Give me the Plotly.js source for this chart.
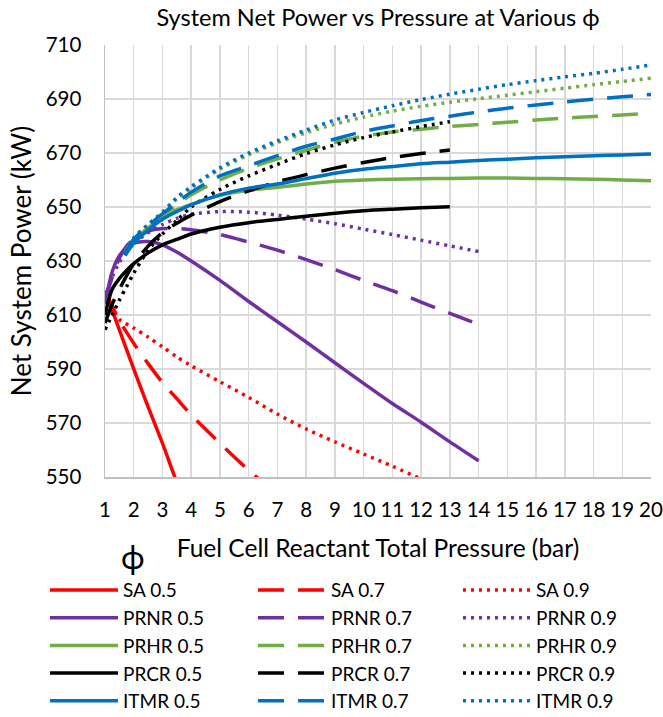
<!DOCTYPE html>
<html><head><meta charset="utf-8">
<script src="https://cdn.plot.ly/plotly-3.0.1.min.js"></script>
<style>html,body{margin:0;padding:0;background:#fff}#chart{width:663px;height:717px}</style>
</head><body><div id="chart"></div>
<script>
// ---- Data ----
const configNames = ['SA', 'PRNR', 'PRHR', 'PRCR', 'ITMR'];
const phiValues = ['0.5', '0.7', '0.9'];

// Pressure (bar) grids for each series
const xSA05 = [1, 1.5, 2, 2.5, 3, 3.5, 4];
const xSA07 = [1, 1.5, 2, 2.5, 3, 3.5, 4, 5, 6, 7];
const xSA09 = [1, 1.25, 1.5, 2, 2.5, 3, 3.5, 4, 5, 6, 7, 8, 9, 10, 11, 12, 13];
const xPRNR = [1, 1.25, 1.5, 1.75, 2, 2.5, 3, 3.5, 4, 5, 6, 7, 8, 9, 10, 11, 12, 13, 14];
const xPRCR = [1, 1.25, 1.5, 1.75, 2, 2.5, 3, 3.5, 4, 5, 6, 7, 8, 9, 10, 11, 12, 13];
const xHigh = [1.7, 2, 2.5, 3, 3.5, 4, 5, 6, 7, 8, 9, 10, 11, 12, 13, 14, 15, 16, 17, 18, 19, 20];

// Net system power (kW)
const SA_05 = [619, 604.5, 590, 576, 562.5, 548, 535];
const SA_07 = [619, 608, 599.5, 592, 585, 579, 573, 562.5, 552.5, 543.5];
const SA_09 = [619, 612, 608.3, 605.2, 601.8, 598.2, 594.5, 591.2, 585.3, 579.5, 573.3, 567.8, 563, 558.5, 554, 549.3, 545];

const PRNR_05 = [614, 626, 632, 635, 636.6, 637.2, 636, 633.3, 630, 622.8, 615, 607.5, 600, 592.3, 584.7, 577.2, 570.3, 563, 556];
const PRNR_07 = [615, 624, 631, 635.5, 638, 641, 642, 642, 641.6, 639.8, 637, 634, 630.5, 626.8, 622.8, 619, 614.8, 610.6, 606.5];
const PRNR_09 = [616, 624, 629.5, 633.5, 636.5, 640.5, 643.5, 645.8, 647.3, 648.3, 648.1, 647, 645.5, 643.8, 641.8, 639.8, 637.7, 635.6, 633.5];

const PRHR_05 = [633, 637.5, 642.3, 646, 649, 651, 654.3, 656.2, 657.3, 658.5, 659.5, 660, 660.3, 660.5, 660.6, 660.7, 660.7, 660.6, 660.5, 660.3, 660, 659.7];
const PRHR_07 = [633.5, 638, 643, 647, 650.8, 654.5, 660, 664.3, 667.8, 671, 674, 676.2, 677.8, 678.8, 679.8, 680.6, 681.4, 682.2, 682.9, 683.5, 684.1, 684.8];
const PRHR_09 = [633, 638.5, 643.5, 648, 653, 657, 664, 669.3, 673.8, 677.5, 680.7, 683.3, 685.5, 687.3, 688.8, 690.1, 691.4, 692.7, 694, 695.3, 696.5, 697.7];

const PRCR_05 = [610, 619.5, 623.5, 626.5, 629, 633, 636, 638, 640, 642.5, 644.2, 645.4, 646.6, 647.7, 648.6, 649.2, 649.7, 650.1];
const PRCR_07 = [607, 614, 619.5, 624.5, 629, 635.5, 640.5, 644, 647, 652, 656, 659.3, 662, 664.4, 666.5, 668.3, 669.8, 671.1];
const PRCR_09 = [604.5, 610, 615.5, 620.5, 625.5, 634, 640, 645, 650, 656.5, 661.5, 665.8, 669.8, 673, 675.7, 677.8, 679.8, 681.6];

const ITMR_05 = [632, 636.5, 641.5, 645.5, 648.3, 650.8, 654.5, 657, 658.5, 660.5, 662.5, 664, 665, 666, 666.6, 667.2, 667.7, 668.2, 668.6, 669, 669.3, 669.6];
const ITMR_07 = [633, 638, 643, 647.5, 651.5, 655.5, 661.5, 665.3, 669, 672.5, 675.2, 678, 680, 682, 683.6, 685.2, 686.6, 687.8, 688.9, 689.9, 690.8, 691.7];
const ITMR_09 = [633, 638.5, 643.5, 648, 653.5, 657.5, 664.5, 670, 674.5, 678.5, 682.2, 685, 687.5, 689.8, 691.8, 693.6, 695.3, 696.8, 698.2, 699.5, 701, 702.6];

const xTickVals = [1,2,3,4,5,6,7,8,9,10,11,12,13,14,15,16,17,18,19,20];
const yTickVals = [550, 570, 590, 610, 630, 650, 670, 690, 710];

// ---- Build traces ----
const seriesX = {
  SA: [xSA05, xSA07, xSA09],
  PRNR: [xPRNR, xPRNR, xPRNR],
  PRHR: [xHigh, xHigh, xHigh],
  PRCR: [xPRCR, xPRCR, xPRCR],
  ITMR: [xHigh, xHigh, xHigh]
};
const seriesY = {
  SA: [SA_05, SA_07, SA_09],
  PRNR: [PRNR_05, PRNR_07, PRNR_09],
  PRHR: [PRHR_05, PRHR_07, PRHR_09],
  PRCR: [PRCR_05, PRCR_07, PRCR_09],
  ITMR: [ITMR_05, ITMR_07, ITMR_09]
};
const colors = {SA: '#FF0000', PRNR: '#7030A0', PRHR: '#70AD47', PRCR: '#000000', ITMR: '#0070C0'};
const dashes = ['solid', '26px,14px', '3px,5px'];
const widths = [3.5, 3.5, 3.5];
const legendIds = ['legend', 'legend2', 'legend3'];

const traces = [];
configNames.forEach(c => {
  phiValues.forEach((p, i) => {
    traces.push({
      type: 'scatter', mode: 'lines',
      name: c + ' ' + p,
      legend: legendIds[i],
      x: seriesX[c][i], y: seriesY[c][i],
      line: {color: colors[c], dash: dashes[i], width: widths[i], shape: 'spline', smoothing: 0.8},
      hoverinfo: 'skip'
    });
  });
});

const FONT = 'Lato, "Open Sans", "Liberation Sans", sans-serif';

// legend column placement (paper fractions of the plot area)
function legendAt(xFrac) {
  return {
    orientation: 'v', x: xFrac, xanchor: 'left', xref: 'paper',
    y: -0.2179, yanchor: 'top', yref: 'paper',
    itemwidth: 68,
    font: {family: FONT, size: 19, color: '#000000'},
    bgcolor: 'rgba(0,0,0,0)', borderwidth: 0, traceorder: 'normal'
  };
}

const layout = {
  width: 663, height: 717,
  paper_bgcolor: '#ffffff', plot_bgcolor: '#ffffff',
  margin: {l: 105, r: 12, t: 45, b: 240, pad: 0, autoexpand: false},
  font: {family: FONT, color: '#000000', size: 19},
  title: {
    text: 'System Net Power vs Pressure at Various \u03D5',
    font: {family: FONT, size: 23.5, color: '#000000'},
    x: 0.5, xref: 'paper', xanchor: 'center',
    y: 0.975, yref: 'container', yanchor: 'middle'
  },
  xaxis: {
    range: [1, 20], tickvals: xTickVals, ticktext: xTickVals.map(String),
    showgrid: true, gridcolor: '#D9D9D9', gridwidth: 1.5,
    showline: true, linecolor: '#BFBFBF', linewidth: 1.5,
    zeroline: false, ticks: '', ticklabelstandoff: 14,
    tickfont: {family: FONT, size: 20.5, color: '#000000'},
    title: {text: 'Fuel Cell Reactant Total Pressure (bar)', font: {family: FONT, size: 24.5, color: '#000000'}, standoff: 20},
    automargin: false, fixedrange: true
  },
  yaxis: {
    range: [550, 710], tickvals: yTickVals, ticktext: yTickVals.map(String),
    showgrid: true, gridcolor: '#D9D9D9', gridwidth: 1.5,
    showline: true, linecolor: '#BFBFBF', linewidth: 1.5,
    zeroline: false, ticks: '', ticklabelstandoff: 18,
    tickfont: {family: FONT, size: 20.5, color: '#000000'},
    title: {text: 'Net System Power (kW)', font: {family: FONT, size: 26, color: '#000000'}, standoff: 6},
    automargin: false, fixedrange: true
  },
  showlegend: true,
  legend: legendAt(-0.1099),
  legend2: legendAt(0.2711),
  legend3: legendAt(0.6465),
  annotations: [{
    text: '\u03D5', xref: 'paper', yref: 'paper', x: 0.051, y: -0.183,
    xanchor: 'center', yanchor: 'middle', showarrow: false,
    font: {family: FONT, size: 32, color: '#000000'}
  }]
};

Plotly.newPlot('chart', traces, layout, {staticPlot: true, displayModeBar: false});
</script>
</body></html>
